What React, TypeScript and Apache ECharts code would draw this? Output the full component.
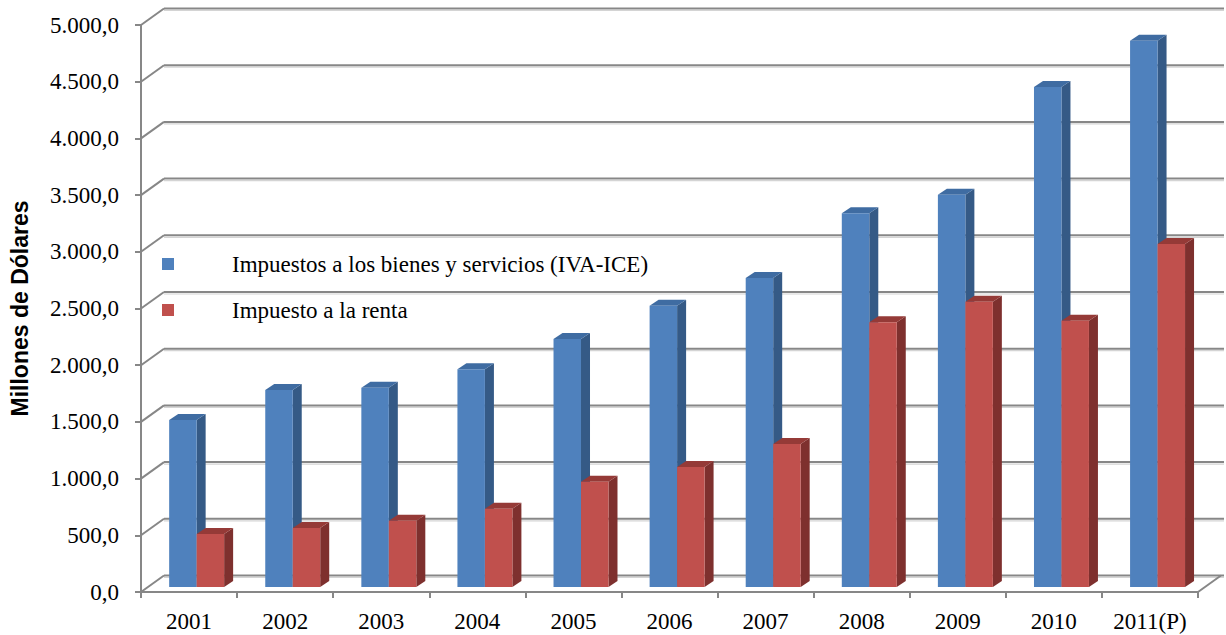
import React, { useEffect, useRef } from "react";
import * as echarts from "echarts";

const categories = ["2001", "2002", "2003", "2004", "2005", "2006", "2007", "2008", "2009", "2010", "2011(P)"];
const seriesNames = ["Impuestos a los bienes y servicios (IVA-ICE)", "Impuesto a la renta"];
const ivaIce = [1473, 1737, 1757, 1920, 2187, 2480, 2725, 3295, 3460, 4410, 4816];
const renta = [467, 520, 585, 690, 928, 1058, 1261, 2334, 2516, 2348, 3025];
const yTicks = [0, 500, 1000, 1500, 2000, 2500, 3000, 3500, 4000, 4500, 5000];
const yAxisTitle = "Millones de Dólares";

const FRONT = { left: 140, top: 25, width: 1058, height: 567 };
const BACK_DX = 23;
const BACK_DY = -16.5;
const BACK_EXTRA_RIGHT = 3;
const BAR_SHIFT_X = 7.6;
const BAR_SHIFT_Y = -5;
const DEPTH_DX = 9;
const DEPTH_DY = -6;

const palettes = [
  { front: "#4F81BD", side: "#355A86", top: "#3F6CA2" },
  { front: "#C0504D", side: "#7E302E", top: "#953A37" },
];

const GRID_COLOR = "#878787";
const GRID_SHADOW = "#d4d4d4";

function fmt(v: number): string {
  const s = Math.round(v).toString().replace(/\B(?=(\d{3})+(?!\d))/g, ".");
  return s + ",0";
}

function makeBarRender(seriesIdx: number) {
  return (params: any, api: any) => {
    const i = api.value(0);
    const v = api.value(1);
    const base = api.coord([i, 0]);
    const top = api.coord([i, v]);
    const catW = api.size([1, 0])[0];
    const w = catW * 0.286;
    const cx = base[0] + BAR_SHIFT_X;
    const x0 = seriesIdx === 0 ? cx - w : cx;
    const yb = base[1] + BAR_SHIFT_Y;
    const yt = top[1] + BAR_SHIFT_Y;
    const p = palettes[seriesIdx];
    return {
      type: "group",
      children: [
        {
          type: "polygon",
          shape: {
            points: [
              [x0 + w, yt],
              [x0 + w + DEPTH_DX, yt + DEPTH_DY],
              [x0 + w + DEPTH_DX, yb + DEPTH_DY],
              [x0 + w, yb],
            ],
          },
          style: { fill: p.side },
        },
        {
          type: "polygon",
          shape: {
            points: [
              [x0, yt],
              [x0 + DEPTH_DX, yt + DEPTH_DY],
              [x0 + w + DEPTH_DX, yt + DEPTH_DY],
              [x0 + w, yt],
            ],
          },
          style: { fill: p.top },
        },
        {
          type: "rect",
          shape: { x: x0, y: yt, width: w, height: yb - yt },
          style: { fill: p.front },
        },
      ],
    };
  };
}

export default function App() {
  const ref = useRef<HTMLDivElement>(null);
  useEffect(() => {
    if (!ref.current) return;
    const chart = echarts.init(ref.current, null, { renderer: "svg" });
    const option: any = {
      animation: false,
      backgroundColor: "#ffffff",
      grid: {
        left: FRONT.left,
        top: FRONT.top,
        width: FRONT.width,
        height: FRONT.height,
        containLabel: false,
      },
      legend: {
        orient: "vertical",
        left: 162,
        top: 252,
        padding: 0,
        itemWidth: 12,
        itemHeight: 12,
        itemGap: 22,
        icon: "rect",
        data: seriesNames,
        selectedMode: false,
        textStyle: {
          fontFamily: "Liberation Serif",
          fontSize: 23,
          color: "#000",
          lineHeight: 24,
          padding: [0, 0, 0, 53],
        },
      },
      xAxis: {
        type: "category",
        data: categories,
        axisLine: { show: true, lineStyle: { color: GRID_COLOR, width: 2 } },
        axisTick: { show: true, length: 6, interval: 0, lineStyle: { color: GRID_COLOR, width: 2 } },
        axisLabel: {
          interval: 0,
          margin: 18,
          fontFamily: "Liberation Serif",
          fontSize: 23,
          color: "#000",
        },
        splitLine: { show: false },
      },
      yAxis: {
        type: "value",
        min: 0,
        max: 5000,
        interval: 500,
        name: yAxisTitle,
        nameLocation: "middle",
        nameRotate: 90,
        nameGap: 110,
        nameTextStyle: {
          fontFamily: "Liberation Sans",
          fontWeight: "bold",
          fontSize: 23,
          color: "#000",
        },
        axisLine: { show: true, lineStyle: { color: GRID_COLOR, width: 2 } },
        axisTick: { show: true, length: 6, lineStyle: { color: GRID_COLOR, width: 2 } },
        axisLabel: {
          margin: 22,
          fontFamily: "Liberation Serif",
          fontSize: 23,
          color: "#000",
          formatter: (v: number) => fmt(v),
        },
        splitLine: { show: false },
      },
      series: [
        {
          type: "custom",
          name: "walls",
          z: 1,
          silent: true,
          data: yTicks.map((v) => [0, v]),
          renderItem: (params: any, api: any) => {
            const v = api.value(1);
            const cs = params.coordSys;
            const y = api.coord([0, v])[1];
            const bx0 = cs.x + BACK_DX;
            const bx1 = cs.x + cs.width + BACK_DX + BACK_EXTRA_RIGHT;
            const by = y + BACK_DY;
            const children: any[] = [
              {
                type: "line",
                shape: { x1: bx0, y1: by + 2, x2: bx1, y2: by + 2 },
                style: { stroke: GRID_SHADOW, lineWidth: 1.2 },
              },
              {
                type: "line",
                shape: { x1: bx0, y1: by, x2: bx1, y2: by },
                style: { stroke: GRID_COLOR, lineWidth: 2 },
              },
              {
                type: "line",
                shape: { x1: cs.x, y1: y, x2: bx0, y2: by },
                style: { stroke: GRID_COLOR, lineWidth: 2 },
              },
            ];
            if (v === 0) {
              children.push({
                type: "line",
                shape: {
                  x1: cs.x + cs.width,
                  y1: y,
                  x2: cs.x + cs.width + BACK_DX,
                  y2: by,
                },
                style: { stroke: GRID_COLOR, lineWidth: 2 },
              });
            }
            return { type: "group", children };
          },
        },
        {
          type: "custom",
          name: seriesNames[0],
          z: 3,
          itemStyle: { color: palettes[0].front },
          data: ivaIce.map((v, i) => [i, v]),
          renderItem: makeBarRender(0),
        },
        {
          type: "custom",
          name: seriesNames[1],
          z: 4,
          itemStyle: { color: palettes[1].front },
          data: renta.map((v, i) => [i, v]),
          renderItem: makeBarRender(1),
        },
      ],
    };
    chart.setOption(option);
    return () => chart.dispose();
  }, []);
  return (
    <div
      ref={ref}
      style={{ position: "absolute", left: 0, top: 0, width: 1226, height: 635 }}
    />
  );
}
